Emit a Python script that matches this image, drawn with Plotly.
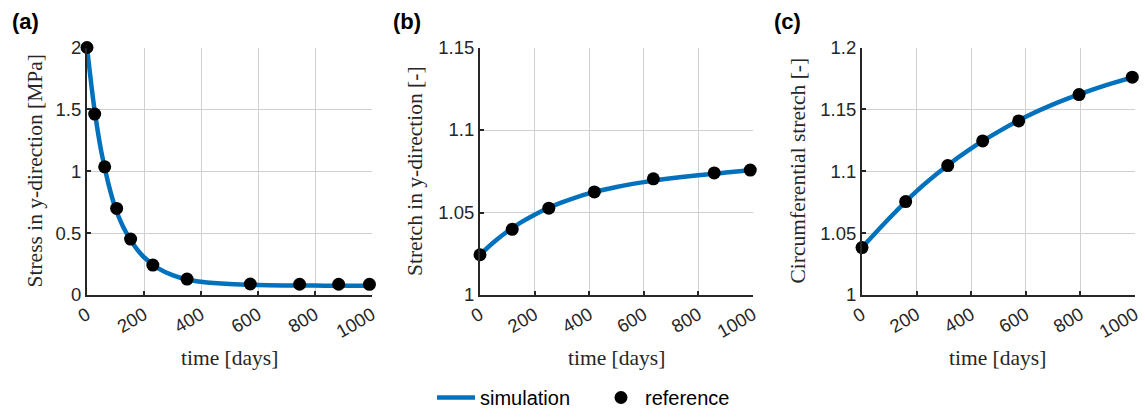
import plotly.graph_objects as go

# ---------------- data ----------------
# (a) stress in y-direction [MPa]
sim_a_t = [0, 10, 25, 50, 75, 100, 125, 150, 175, 200, 250, 300, 350, 400, 500, 600, 700, 800, 900, 1000]
sim_a_v = [2.0, 1.80, 1.52, 1.16, 0.90, 0.70, 0.56, 0.455, 0.37, 0.305, 0.215, 0.16, 0.125, 0.107, 0.088, 0.080, 0.077, 0.076, 0.075, 0.075]
ref_a_t = [0, 27, 62, 104, 153, 231, 351, 573, 746, 883, 991]
ref_a_v = [2.0, 1.462, 1.036, 0.700, 0.452, 0.242, 0.129, 0.089, 0.087, 0.087, 0.086]

# (b) stretch in y-direction [-]
sim_b_t = [0, 50, 100, 150, 200, 250, 300, 400, 500, 600, 700, 800, 900, 1000]
sim_b_v = [1.0244, 1.0320, 1.0385, 1.0440, 1.0487, 1.0527, 1.0561, 1.0616, 1.0655, 1.0684, 1.0707, 1.0726, 1.0742, 1.0757]
ref_b_t = [0, 118, 252, 419, 635, 858, 990]
ref_b_v = [1.0244, 1.0398, 1.0526, 1.0625, 1.0704, 1.0740, 1.0757]

# (c) circumferential stretch [-]
sim_c_t = [0, 100, 200, 300, 400, 500, 600, 700, 800, 900, 1000]
sim_c_v = [1.0383, 1.0620, 1.0840, 1.1025, 1.1185, 1.1320, 1.1440, 1.1540, 1.1625, 1.1700, 1.1765]
ref_c_t = [0, 160, 314, 442, 574, 795, 990]
ref_c_v = [1.0383, 1.0755, 1.1046, 1.1245, 1.1407, 1.1620, 1.1760]

x_ticks = [0, 200, 400, 600, 800, 1000]
x_ticktext = ["0", "200", "400", "600", "800", "1000"]
ya_ticks = [0, 0.5, 1, 1.5, 2]
ya_text = ["0", "0.5", "1", "1.5", "2"]
yb_ticks = [1, 1.05, 1.1, 1.15]
yb_text = ["1", "1.05", "1.1", "1.15"]
yc_ticks = [1, 1.05, 1.1, 1.15, 1.2]
yc_text = ["1", "1.05", "1.1", "1.15", "1.2"]

y_titles = ["Stress in y-direction [MPa]", "Stretch in y-direction [-]", "Circumferential stretch [-]"]
x_title = "time [days]"
panel_labels = ["(a)", "(b)", "(c)"]

# ---------------- layout constants ----------------
W, H = 1145, 417
BLUE = "#0072BD"
DARK = "#262626"
GRID = "#d0d0d0"
SANS = "Liberation Sans, Arial, sans-serif"
SERIF = "Liberation Serif, Times New Roman, serif"

x_dom_px = [(87, 372), (480, 753), (862, 1135)]
y_dom_px = (47.5, 295)

fig = go.Figure()

sims = [(sim_a_t, sim_a_v), (sim_b_t, sim_b_v), (sim_c_t, sim_c_v)]
refs = [(ref_a_t, ref_a_v), (ref_b_t, ref_b_v), (ref_c_t, ref_c_v)]

for i in range(3):
    xa = "x" if i == 0 else f"x{i+1}"
    ya = "y" if i == 0 else f"y{i+1}"
    fig.add_trace(go.Scatter(
        x=sims[i][0], y=sims[i][1], mode="lines",
        line=dict(color=BLUE, width=4.5, shape="spline", smoothing=1.0),
        name="simulation", showlegend=(i == 0), legendgroup="sim",
        xaxis=xa, yaxis=ya, cliponaxis=False, hoverinfo="skip"))
    fig.add_trace(go.Scatter(
        x=refs[i][0], y=refs[i][1], mode="markers",
        marker=dict(color="black", size=13, line=dict(width=0)),
        name="reference", showlegend=(i == 0), legendgroup="ref",
        xaxis=xa, yaxis=ya, cliponaxis=False, hoverinfo="skip"))

yranges = [[0, 2], [1, 1.15], [1, 1.2]]
yticks = [(ya_ticks, ya_text), (yb_ticks, yb_text), (yc_ticks, yc_text)]

common_axis = dict(
    showline=True, linecolor=DARK, linewidth=2,
    showgrid=True, gridcolor=GRID, gridwidth=1,
    ticks="inside", ticklen=4, tickwidth=1.5, tickcolor=DARK,
    zeroline=False, mirror=False, automargin=False,
    tickfont=dict(family=SANS, size=18.5, color=DARK),
)

layout_axes = {}
for i in range(3):
    xk = "xaxis" if i == 0 else f"xaxis{i+1}"
    yk = "yaxis" if i == 0 else f"yaxis{i+1}"
    xa = "x" if i == 0 else f"x{i+1}"
    ya = "y" if i == 0 else f"y{i+1}"
    layout_axes[xk] = dict(
        common_axis, domain=[x_dom_px[i][0] / W, x_dom_px[i][1] / W],
        range=[0, 1000], tickvals=x_ticks, ticktext=x_ticktext,
        tickangle=-30, anchor=ya)
    layout_axes[yk] = dict(
        common_axis, domain=[1 - y_dom_px[1] / H, 1 - y_dom_px[0] / H],
        range=yranges[i], tickvals=yticks[i][0], ticktext=yticks[i][1],
        anchor=xa)

fig.update_layout(**layout_axes)

annotations = []
ytitle_x = [34.5, 415, 797.5]
xtitle_x = [229, 616, 997]
label_x = [25, 407, 787.5]
for i in range(3):
    annotations.append(dict(
        text=y_titles[i], x=ytitle_x[i] / W, y=1 - 171 / H, xref="paper", yref="paper",
        xanchor="center", yanchor="middle", textangle=-90, showarrow=False,
        font=dict(family=SERIF, size=21.5, color=DARK)))
    annotations.append(dict(
        text=x_title, x=xtitle_x[i] / W, y=1 - 358 / H, xref="paper", yref="paper",
        xanchor="center", yanchor="middle", showarrow=False,
        font=dict(family=SERIF, size=21.5, color=DARK)))
    annotations.append(dict(
        text="<b>" + panel_labels[i] + "</b>", x=label_x[i] / W, y=1 - 21 / H,
        xref="paper", yref="paper", xanchor="center", yanchor="middle",
        showarrow=False, font=dict(family=SANS, size=22, color="black")))

fig.update_layout(
    width=W, height=H,
    margin=dict(l=0, r=0, t=0, b=0),
    paper_bgcolor="white", plot_bgcolor="white",
    annotations=annotations,
    showlegend=True,
    legend=dict(orientation="h", x=432 / W, xanchor="left", y=0, yanchor="bottom",
                font=dict(family=SANS, size=20, color="black"),
                itemwidth=38,
                entrywidth=112, entrywidthmode="pixels",
                bgcolor="rgba(0,0,0,0)", borderwidth=0),
)

fig.write_html("out.html")
